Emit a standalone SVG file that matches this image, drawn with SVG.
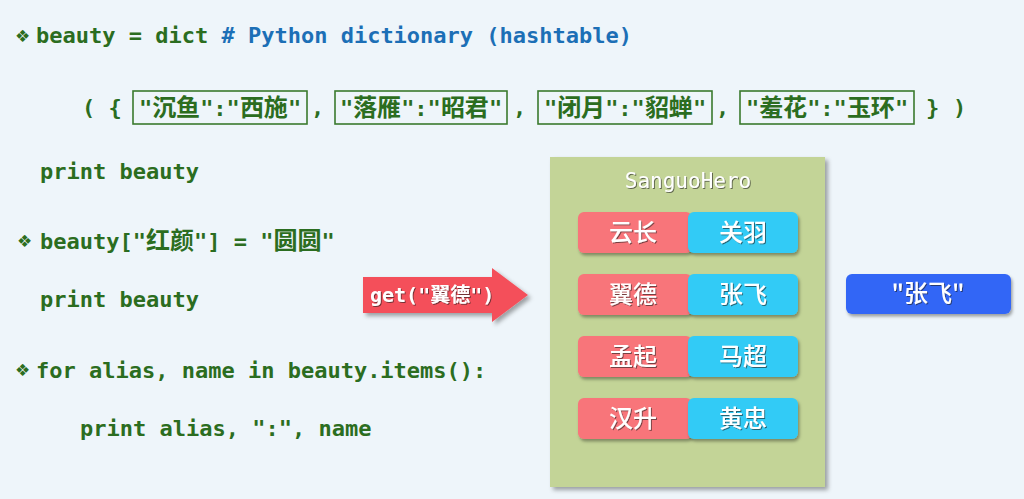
<svg xmlns="http://www.w3.org/2000/svg" width="1024" height="499" viewBox="0 0 1024 499">
<defs>
<style>
.code{font-family:"DejaVu Sans Mono","Noto Sans CJK SC",monospace;font-size:22px;font-weight:bold;fill:#2b6d20}
.cmt{fill:#1c6fb6}
.cj{font-family:"Noto Sans CJK SC",sans-serif;font-size:24px;font-weight:bold}
.bul{font-family:"DejaVu Sans",sans-serif;font-size:17px;fill:#2b6d20}
.kbox{fill:none;stroke:#3a7a2e;stroke-width:1.6}
.key{fill:#f8747a}
.val{fill:#30cbf6}
.cell{font-family:"Noto Sans CJK SC",sans-serif;font-size:24px;font-weight:500;fill:#ffffff;text-anchor:middle}
.title{font-family:"DejaVu Sans Mono",monospace;font-size:21px;fill:#ffffff;text-anchor:middle}
.arrowtxt{font-family:"DejaVu Sans Mono","Noto Sans CJK SC",monospace;font-size:20px;font-weight:bold;fill:#ffffff}
</style>
<filter id="sh" x="-10%" y="-10%" width="130%" height="130%">
<feDropShadow dx="3" dy="3" stdDeviation="2" flood-color="#000" flood-opacity="0.35"/>
</filter>
<filter id="bsh" x="-10%" y="-20%" width="130%" height="150%">
<feDropShadow dx="1.5" dy="2.5" stdDeviation="1.5" flood-color="#000" flood-opacity="0.35"/>
</filter>
<filter id="tsh" x="-10%" y="-20%" width="130%" height="150%">
<feDropShadow dx="1" dy="1" stdDeviation="0.6" flood-color="#222" flood-opacity="0.6"/>
</filter>
</defs>
<rect width="1024" height="499" fill="#eef5fa"/>

<g id="code">
<text class="bul" x="15" y="42">❖</text>
<text class="code" x="36" y="43">beauty = dict <tspan class="cmt"># Python dictionary (hashtable)</tspan></text>

<text class="code" x="82" y="115">( {</text>
<rect class="kbox" x="133" y="91" width="174" height="33"/>
<text class="code" x="220" y="116" text-anchor="middle">"<tspan class="cj">沉鱼</tspan>":"<tspan class="cj">西施</tspan>"</text>
<text class="code" x="311" y="115">,</text>
<rect class="kbox" x="335" y="91" width="172" height="33"/>
<text class="code" x="421" y="116" text-anchor="middle">"<tspan class="cj">落雁</tspan>":"<tspan class="cj">昭君</tspan>"</text>
<text class="code" x="513" y="115">,</text>
<rect class="kbox" x="538" y="91" width="174" height="33"/>
<text class="code" x="625" y="116" text-anchor="middle">"<tspan class="cj">闭月</tspan>":"<tspan class="cj">貂蝉</tspan>"</text>
<text class="code" x="716" y="115">,</text>
<rect class="kbox" x="740" y="91" width="174" height="33"/>
<text class="code" x="827" y="116" text-anchor="middle">"<tspan class="cj">羞花</tspan>":"<tspan class="cj">玉环</tspan>"</text>
<text class="code" x="926" y="115">}</text>
<text class="code" x="953" y="115">)</text>

<text class="code" x="40" y="179">print beauty</text>

<text class="bul" x="17" y="247">❖</text>
<text class="code" x="40" y="249">beauty["<tspan class="cj">红颜</tspan>"] = "<tspan class="cj">圆圆</tspan>"</text>

<text class="code" x="40" y="307">print beauty</text>

<text class="bul" x="15" y="376">❖</text>
<text class="code" x="36" y="378">for alias, name in beauty.items():</text>

<text class="code" x="80" y="436">print alias, ":", name</text>
</g>

<g id="connectors">
<g id="get-arrow">
<polygon points="363,277 492,277 492,268 528,295 492,322 492,313 363,313" fill="#f4505a" filter="url(#sh)"/>
<text class="arrowtxt" x="370" y="302" filter="url(#tsh)">get("<tspan font-family="Noto Sans CJK SC,sans-serif">翼德</tspan>")</text>
</g>
</g>

<g id="SanguoHero">
<rect x="550" y="157" width="275" height="330" fill="#c3d497" filter="url(#sh)"/>
<text class="title" x="688" y="188" filter="url(#tsh)">SanguoHero</text>
</g>

<g id="row1">
<rect class="key" x="578" y="212" width="114" height="41" rx="6" filter="url(#bsh)"/>
<rect class="val" x="688" y="212" width="110" height="41" rx="6" filter="url(#bsh)"/>
<text class="cell" x="633" y="241" filter="url(#tsh)">云长</text>
<text class="cell" x="743" y="241" filter="url(#tsh)">关羽</text>
</g>
<g id="row2">
<rect class="key" x="578" y="274" width="114" height="41" rx="6" filter="url(#bsh)"/>
<rect class="val" x="688" y="274" width="110" height="41" rx="6" filter="url(#bsh)"/>
<text class="cell" x="633" y="303" filter="url(#tsh)">翼德</text>
<text class="cell" x="743" y="303" filter="url(#tsh)">张飞</text>
</g>
<g id="row3">
<rect class="key" x="578" y="336" width="114" height="41" rx="6" filter="url(#bsh)"/>
<rect class="val" x="688" y="336" width="110" height="41" rx="6" filter="url(#bsh)"/>
<text class="cell" x="633" y="365" filter="url(#tsh)">孟起</text>
<text class="cell" x="743" y="365" filter="url(#tsh)">马超</text>
</g>
<g id="row4">
<rect class="key" x="578" y="398" width="114" height="41" rx="6" filter="url(#bsh)"/>
<rect class="val" x="688" y="398" width="110" height="41" rx="6" filter="url(#bsh)"/>
<text class="cell" x="633" y="427" filter="url(#tsh)">汉升</text>
<text class="cell" x="743" y="427" filter="url(#tsh)">黄忠</text>
</g>

<g id="result">
<rect x="846" y="274" width="165" height="40" rx="6" fill="#3366f6" filter="url(#bsh)"/>
<text class="cell" x="928" y="302" font-size="20" font-weight="bold" filter="url(#tsh)">"张飞"</text>
</g>
</svg>
